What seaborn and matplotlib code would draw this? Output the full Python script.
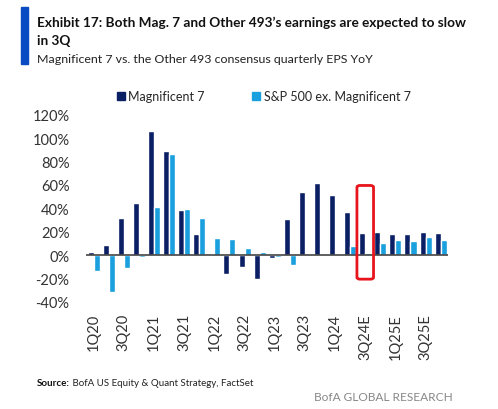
import numpy as np
import pandas as pd
import seaborn as sns
import matplotlib.pyplot as plt
from matplotlib.patches import Rectangle, FancyBboxPatch, Patch

quarters = ['1Q20', '2Q20', '3Q20', '4Q20', '1Q21', '2Q21', '3Q21', '4Q21',
            '1Q22', '2Q22', '3Q22', '4Q22', '1Q23', '2Q23', '3Q23', '4Q23',
            '1Q24', '2Q24', '3Q24E', '4Q24E', '1Q25E', '2Q25E', '3Q25E', '4Q25E']
mag7 = [2.6, 9, 31.6, 44.4, 106, 89, 38.5, 18, 1, -16, -9.7, -20,
        -2.8, 31, 54, 61.8, 51.3, 36.7, 19, 20, 18, 18, 20, 18.8]
other493 = [-13.7, -31.6, -11.4, -1.5, 41.3, 86.6, 39.6, 31.9, 14.5, 14, 6.3, 2.8,
            -2, -8.8, 0, 0, 0, 7.4, 1.5, 10.3, 13, 12.3, 15.4, 13]
series_names = ['Magnificent 7', 'S&P 500 ex. Magnificent 7']
colors = ['#0B1F65', '#1AA0DE']
shown_ticks = quarters[::2]
highlight = '3Q24E'

df = pd.DataFrame({
    'quarter': quarters * 2,
    'eps': mag7 + other493,
    'series': [series_names[0]] * len(quarters) + [series_names[1]] * len(quarters),
})

sns.set_style('white')
plt.rcParams['font.family'] = ['Lato', 'DejaVu Sans']

fig = plt.figure(figsize=(4.98, 4.10), dpi=100)
ax = fig.add_axes([0.173, 0.261, 0.727, 0.457])

sns.barplot(data=df, x='quarter', y='eps', hue='series', palette=colors,
            order=quarters, hue_order=series_names, width=0.8,
            saturation=1, legend=False, ax=ax)

ax.set_xlim(-0.5, len(quarters) - 0.5)
ax.set_ylim(-40, 120)
ax.set_yticks(range(-40, 121, 20))
ax.set_yticklabels([f'{v}%' for v in range(-40, 121, 20)], fontsize=10.5, color='#333333')
ax.set_xticks([quarters.index(q) for q in shown_ticks])
ax.set_xticklabels(shown_ticks, rotation=90, fontsize=10.5, color='#333333')
ax.tick_params(axis='y', length=0, pad=12)
ax.tick_params(axis='x', length=0, pad=8)
ax.set_xlabel('')
ax.set_ylabel('')
for s in ax.spines.values():
    s.set_visible(False)
ax.axhline(0, color='#444444', lw=1.2, zorder=5)

# red box round the 3Q24E pair
i = quarters.index(highlight)
box = FancyBboxPatch((i - 0.55, -20.5), 1.1, 80, boxstyle='round,pad=0,rounding_size=0.2',
                     mutation_aspect=8, fill=False, edgecolor='#E8141C', lw=2, zorder=6,
                     clip_on=False)
ax.add_patch(box)

# legend
handles = [Patch(color=c, label=n) for c, n in zip(colors, series_names)]
fig.legend(handles=handles, loc='center', bbox_to_anchor=(0.53, 0.763), ncol=2,
           frameon=False, handlelength=0.6, handleheight=0.6,
           handletextpad=0.3, columnspacing=3.8, prop={'size': 9})

# header
fig.add_artist(Rectangle((21 / 498, 1 - 65 / 410), 7 / 498, 57 / 410,
                         transform=fig.transFigure, color='#0A4BC4'))
fig.text(37 / 498, 1 - 27 / 410,
         "Exhibit 17: Both Mag. 7 and Other 493\u2019s earnings are expected to slow",
         fontsize=9.8, weight='bold', color='#111111', va='baseline', ha='left')
fig.text(37 / 498, 1 - 45 / 410, 'in 3Q',
         fontsize=9.8, weight='bold', color='#111111', va='baseline', ha='left')
fig.text(37 / 498, 1 - 63 / 410, 'Magnificent 7 vs. the Other 493 consensus quarterly EPS YoY',
         fontsize=8.9, color='#222222', va='baseline', ha='left')

# footer
src = fig.text(37 / 498, 1 - 386 / 410, 'Source:', fontsize=7, weight='bold',
               color='#111111', va='baseline')
ax.annotate(' BofA US Equity & Quant Strategy, FactSet', xy=(1, 0), xycoords=src,
            fontsize=7, color='#222222', va='bottom', ha='left')
fig.text(453 / 498, 1 - 401 / 410, 'BofA GLOBAL RESEARCH', fontsize=8.6, color='#888888',
         ha='right', va='baseline')

fig.savefig('out.png', dpi=100)
